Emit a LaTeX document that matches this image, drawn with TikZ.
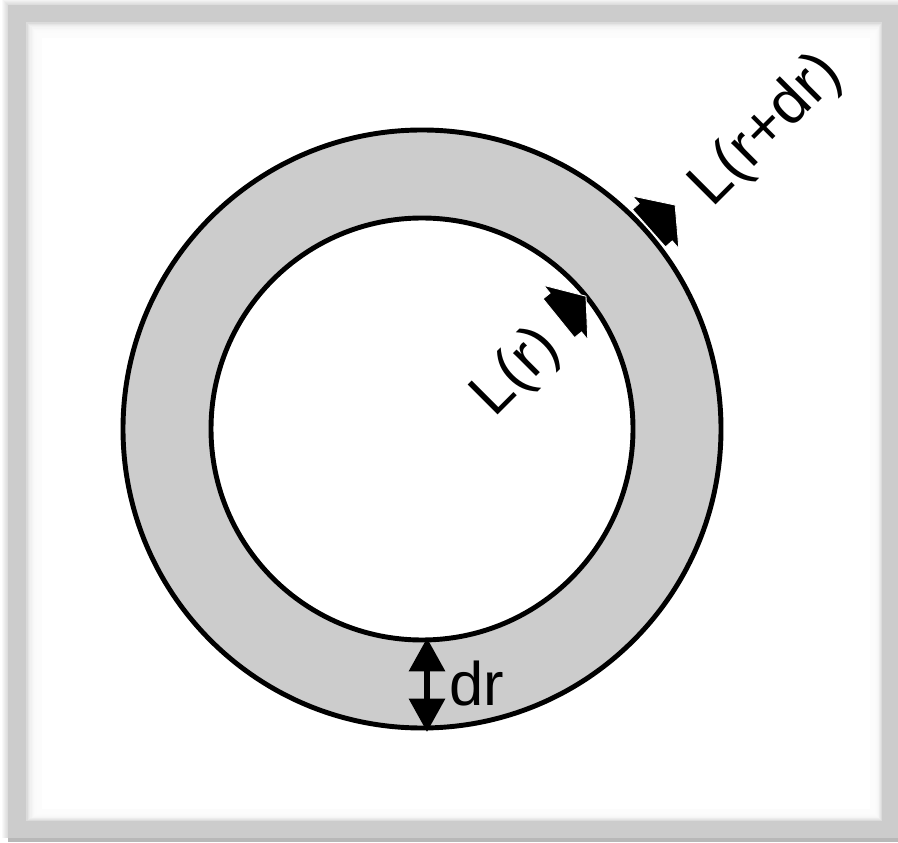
\documentclass[tikz,border=0pt]{standalone}
\usepackage{fontspec}
\setmainfont{Liberation Sans}
\usetikzlibrary{arrows.meta}
\definecolor{framegrey}{HTML}{CCCCCC}
\definecolor{edgegrey}{HTML}{B8B8B8}
\definecolor{shellgrey}{HTML}{CCCCCC}

\tikzset{
  lbl/.style={font=\fontsize{35}{42}\selectfont, inner sep=0pt},
  rim/.style={draw=black, line width=2.8pt},
  drhead/.tip={Triangle[width=20pt, length=19pt]}
}

\begin{document}
\begin{tikzpicture}[x=0.02cm, y=0.02cm]

  % === Spherical shell of thickness dr, luminosity in and out ===

  \def\rin{211}    % inner radius
  \def\rout{299}   % outer radius

  \useasboundingbox (0,0) rectangle (898,842);

  % Frame with soft shadow
  \foreach \i in {1,...,6} {
    \fill[black, opacity=0.025] (8-\i, 4) rectangle (898, 837+\i);
  }
  \fill[edgegrey] (8,0) rectangle (898,4);
  \fill[framegrey] (8,4) rectangle (898,837);
  \fill[black!20] (25,20) rectangle (883,821);
  \foreach \i in {1,...,12} {
    \fill[white, opacity=0.3] (25+1.3*\i, 20+0.9*\i) rectangle (883-0.9*\i, 821-1.3*\i);
  }
  \fill[white] (42,33) rectangle (870,804);

  \coordinate (c) at (422,413);

  % Shell
  \fill[shellgrey, rim] (c) circle[radius=\rout];
  \fill[white, rim] (c) circle[radius=\rin];

  % Outward luminosity arrows (short block arrows)
  \begin{scope}[shift={(c)}, rotate=39]
    \filldraw[black, draw=white, line width=0.5pt]
      (176,-25) -- (185,-25) -- (185,-35) -- (211,0)
      -- (185,35) -- (185,25) -- (176,25) -- cycle;
  \end{scope}
  \begin{scope}[shift={(c)}, rotate=41.5]
    \filldraw[black, draw=white, line width=0.5pt]
      (303,-25) -- (312,-25) -- (312,-35) -- (338,0)
      -- (312,35) -- (312,25) -- (303,25) -- cycle;
  \end{scope}

  % Labels
  \node[lbl, rotate=45] (lr) at (517,469) {L(r)};
  \node[lbl, rotate=45] (lrdr) at (767,711) {L(r+dr)};
  \node[lbl, anchor=base west] (dr) at (449,137) {dr};

  % Thickness dr
  \coordinate (drtop) at (427,204);
  \coordinate (drbot) at (427,110);
  \draw[line width=3.4pt, drhead-drhead] (drtop) -- (drbot);

\end{tikzpicture}
\end{document}
